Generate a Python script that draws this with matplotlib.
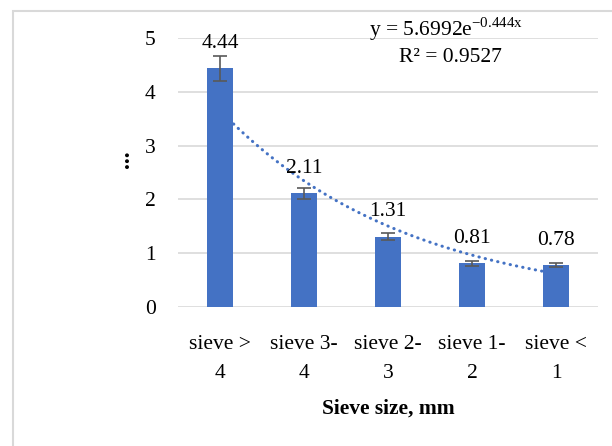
from matplotlib import pyplot as plt
from matplotlib.patches import Rectangle
import numpy as np

plt.rcParams['font.family'] = ['Liberation Serif', 'DejaVu Serif']

categories = ['sieve >\n4', 'sieve 3-\n4', 'sieve 2-\n3', 'sieve 1-\n2', 'sieve <\n1']
values = [4.44, 2.11, 1.31, 0.81, 0.78]
errors = [0.23, 0.11, 0.07, 0.04, 0.03]
labels = ['4.44', '2.11', '1.31', '0.81', '0.78']
# exponential trendline y = a*e^(b*x), as shown on the chart
fit_a = 5.6992
fit_b = -0.444

blue = '#4472C4'
fs = 15.5

fig = plt.figure(figsize=(6.12, 4.46), dpi=100)
ax = fig.add_axes([178 / 612, 1 - 307 / 446, 420 / 612, 269 / 446])

# outer chart border (cropped on the right and bottom)
fig.patches.append(Rectangle((13 / 612, -0.05), 1.0, 1 - 11 / 446 + 0.05,
                             transform=fig.transFigure, fill=False,
                             edgecolor='#d9d9d9', linewidth=1.5))

x = np.arange(1, len(values) + 1)
tx = np.linspace(1, 5, 100)
ax.plot(tx, fit_a * np.exp(fit_b * tx), color=blue, linewidth=2.2,
        linestyle=(0, (0.1, 2.0)), dash_capstyle='round', zorder=2)
ax.bar(x, values, width=0.31, color=blue, zorder=3)
ax.errorbar(x, values, yerr=errors, fmt='none', ecolor='#595959',
            elinewidth=1.2, capsize=5, capthick=1.2, zorder=4)
for xi, v, lab in zip(x, values, labels):
    ax.annotate(lab, (xi, v), xytext=(0, 11), textcoords='offset points',
                ha='center', va='bottom', fontsize=fs)

ax.set_xlim(0.5, 5.5)
ax.set_ylim(0, 5)
ax.set_yticks(range(6))
ax.set_xticks(x)
ax.set_xticklabels(categories, fontsize=fs, linespacing=1.72)
ax.tick_params(axis='y', labelsize=fs, length=0, pad=16)
ax.tick_params(axis='x', length=0, pad=20)
ax.grid(axis='y', color='#d9d9d9', linewidth=1.2, zorder=0)
ax.set_axisbelow(True)
for s in ['top', 'right', 'left', 'bottom']:
    ax.spines[s].set_visible(False)

ax.set_xlabel('Sieve size, mm', fontsize=fs, fontweight='bold', labelpad=11)
ax.set_ylabel('...', fontsize=17, fontweight='bold')
ax.yaxis.set_label_coords((134 - 178) / 420, 0.55)

fig.text(446 / 612, 1 - 29 / 446, r'y = 5.6992e$^{\mathregular{-0.444x}}$',
         ha='center', va='center', fontsize=fs)
fig.text(450 / 612, 1 - 58 / 446, 'R² = 0.9527', ha='center', va='center', fontsize=fs)

fig.savefig('out.png', dpi=100)
